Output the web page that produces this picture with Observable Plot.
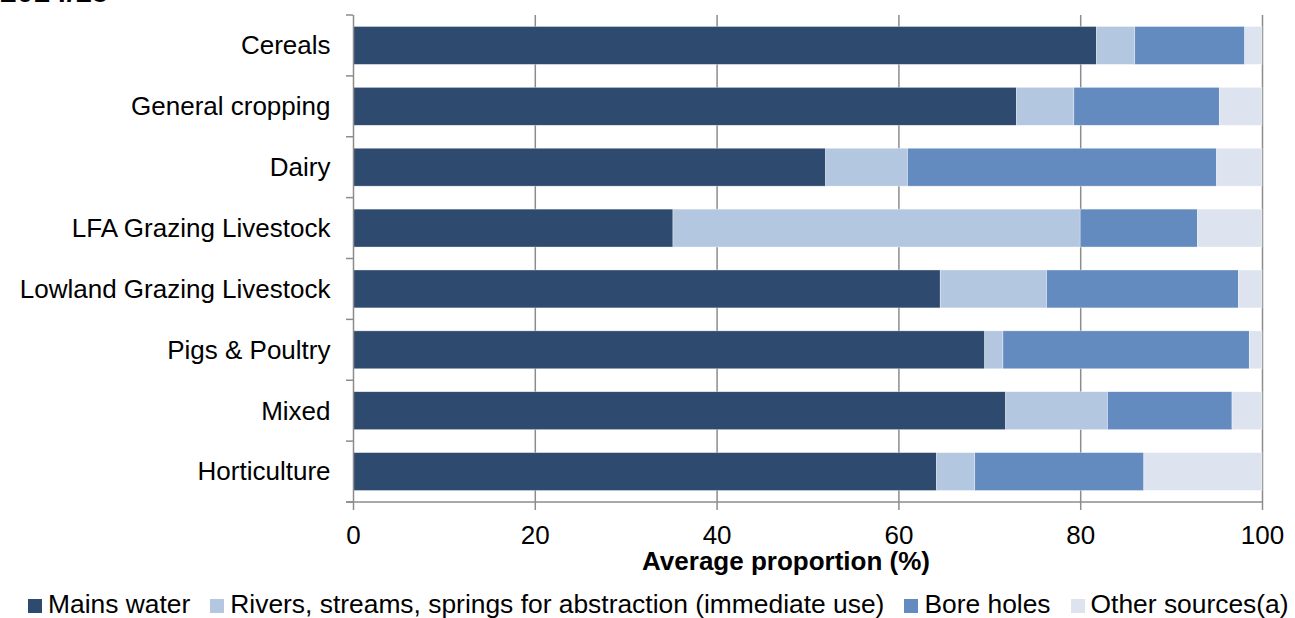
<!DOCTYPE html>
<html>
<head>
<meta charset="utf-8">
<script src="https://cdn.jsdelivr.net/npm/d3@7"></script>
<script src="https://cdn.jsdelivr.net/npm/@observablehq/plot@0.6"></script>
<style>
  html, body { margin: 0; padding: 0; background: #fff; }
  body { width: 1295px; height: 618px; overflow: hidden; position: relative; font-family: Arial, "Liberation Sans", sans-serif; }
  #title { position: absolute; left: 0; top: -23px; font-size: 30px; line-height: 30px; font-weight: bold; color: #000; z-index: 2; }
  #legend { display: flex; align-items: baseline; padding-left: 28px; padding-top: 8px; font-size: 26.4px; line-height: 30px; color: #000; white-space: nowrap; }
  #legend .item { display: inline-flex; align-items: baseline; margin-right: 20px; }
  #legend .sw { display: inline-block; width: 14px; height: 14px; margin-right: 6px; }
</style>
</head>
<body>
<div id="title">2014/15</div>
<div id="chart"></div>
<div id="legend"></div>
<script>
const categories = ["Cereals", "General cropping", "Dairy", "LFA Grazing Livestock", "Lowland Grazing Livestock", "Pigs & Poultry", "Mixed", "Horticulture"];
const sources = ["Mains water", "Rivers, streams, springs for abstraction (immediate use)", "Bore holes", "Other sources(a)"];
const mains  = [81.8, 73.0, 52.0, 35.2, 64.6, 69.5, 71.8, 64.2];
const rivers = [4.2, 6.3, 9.0, 44.8, 11.7, 2.0, 11.2, 4.2];
const bore   = [12.1, 16.0, 34.0, 12.9, 21.1, 27.1, 13.7, 18.6];
const other  = [1.9, 4.7, 5.0, 7.1, 2.6, 1.4, 3.3, 13.0];
const xTicks = [0, 20, 40, 60, 80, 100];
const colors = ["#2E4A6F", "#B4C7E1", "#638BBF", "#DDE4F0"];

const series = [mains, rivers, bore, other];
const data = [];
sources.forEach((s, si) => {
  categories.forEach((c, ci) => data.push({category: c, source: s, value: series[si][ci]}));
});

const W = 1295, H = 581, mT = 15, mB = H - 502, mL = 353, mR = W - 1262;
const font = 'Arial, "Liberation Sans", sans-serif';

const chart = Plot.plot({
  width: W,
  height: H,
  marginTop: mT,
  marginBottom: mB,
  marginLeft: mL,
  marginRight: mR,
  style: {fontFamily: font, fontSize: "26px", color: "#000", background: "#fff", overflow: "visible"},
  x: {domain: [0, 100], ticks: xTicks, label: null},
  y: {domain: categories, paddingInner: 0.377, paddingOuter: 0.1885, round: false, label: null},
  color: {domain: sources, range: colors},
  marks: [
    Plot.ruleX(xTicks.filter(d => d > 0), {stroke: "#8c8c8c", strokeWidth: 1.5}),
    Plot.barX(data, {y: "category", x: "value", fill: "source", stroke: "#ffffff", strokeWidth: 0.6, strokeOpacity: 0.6}),
    Plot.ruleX([0], {stroke: "#8c8c8c", strokeWidth: 1.5}),
    Plot.axisX({ticks: xTicks, tickSize: 8, tickPadding: 15, stroke: "#8c8c8c", strokeWidth: 1.5, fontSize: 26, label: null, tickFormat: d => String(d)}),
    Plot.axisY({tickSize: 0, tickPadding: 23, fontSize: 26, label: null}),
    Plot.text(["Average proportion (%)"], {frameAnchor: "bottom", lineAnchor: "middle", dy: 59, dx: -22, fontWeight: "bold", fontSize: 26, fill: "#000"})
  ]
});
document.getElementById("chart").appendChild(chart);

// x-axis baseline and y-axis category boundary ticks, placed from Plot's own scales
const xs = chart.scale("x"), ys = chart.scale("y");
const x0 = xs.apply(0), x1 = xs.apply(100);
const yTop = ys.range[0], yBot = ys.range[1];
const svg = d3.select(chart);
const g = svg.append("g").attr("stroke", "#8c8c8c").attr("stroke-width", 1.5);
g.append("line").attr("x1", x0 - 7).attr("x2", x1).attr("y1", yBot).attr("y2", yBot);
const n = categories.length;
for (let i = 0; i <= n; i++) {
  const yy = yTop + (yBot - yTop) * i / n;
  g.append("line").attr("x1", x0 - 7).attr("x2", x0).attr("y1", yy).attr("y2", yy);
}

// legend
const leg = d3.select("#legend");
sources.forEach((s, i) => {
  const it = leg.append("span").attr("class", "item");
  it.append("span").attr("class", "sw").style("background", colors[i]);
  it.append("span").text(s);
});
</script>
</body>
</html>
